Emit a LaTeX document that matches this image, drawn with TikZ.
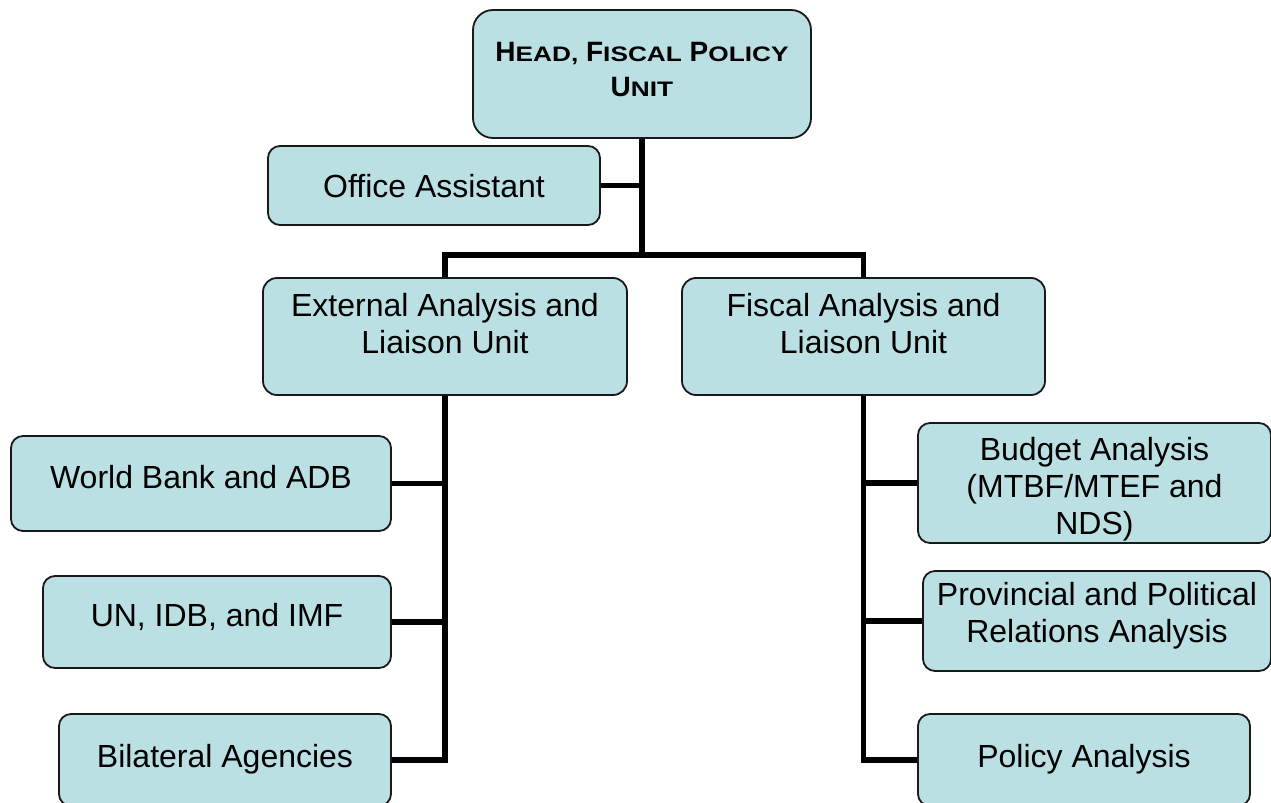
\documentclass[tikz,border=0pt]{standalone}
\usepackage{fontspec}
\setmainfont{Liberation Sans}
\newfontfamily\widefont[FakeStretch=1.25]{Liberation Sans}
\usepackage{xcolor}
\definecolor{boxfill}{HTML}{BBE0E3}
% small capitals for the unit head, drawn a little wider
\newcommand{\lowcap}[1]{{\fontsize{10.5}{17.5}\widefont\bfseries #1}}

\begin{document}
\begin{tikzpicture}[x=0.5pt, y=-0.5pt,
  unitbox/.style={draw=black!90, line width=0.9pt, fill=boxfill,
    rounded corners=6pt, align=center, inner sep=0pt,
    font=\fontsize{16}{18.5}\selectfont, text height=11.5pt, text depth=0pt},
  link/.style={line width=2.8pt}]
  \useasboundingbox (0,0) rectangle (1271,803);

  % Head of the unit and its assistant
  \node[unitbox, rounded corners=10pt, minimum width=169pt, minimum height=64pt,
    font=\fontsize{14}{17.5}\selectfont\bfseries, text height=27.5pt, text depth=5pt]
    (head) at (642,74) {H\lowcap{EAD,} F\lowcap{ISCAL} P\lowcap{OLICY}\\U\lowcap{NIT}};
  \node[unitbox, minimum width=166pt, minimum height=39.5pt] (office) at (434,185.5) {Office Assistant};

  % The two units
  \node[unitbox, rounded corners=7pt, minimum width=182pt, minimum height=58.5pt,
    text height=30pt, text depth=13pt] (ext) at (445,336.5) {External Analysis and\\Liaison Unit};
  \node[unitbox, rounded corners=7pt, minimum width=181.5pt, minimum height=58.5pt,
    text height=30pt, text depth=13pt] (fis) at (863.5,336.5) {Fiscal Analysis and\\Liaison Unit};

  % Desks under the external unit
  \node[unitbox, minimum width=190pt, minimum height=47.5pt, text depth=7pt] (wb) at (201,483.5) {World Bank and ADB};
  \node[unitbox, minimum width=174pt, minimum height=46pt, text depth=7pt] (un) at (217,622) {UN, IDB, and IMF};
  \node[unitbox, minimum width=166pt, minimum height=46pt, text depth=4pt] (bil) at (225,760) {Bilateral Agencies};

  % Desks under the fiscal unit
  \node[unitbox, minimum width=176.5pt, minimum height=60pt, text height=51.5pt]
    (bud) at (1094.5,483) {Budget Analysis\\(MTBF/MTEF and\\NDS)};
  \node[unitbox, minimum width=174pt, minimum height=50pt, text height=30pt, text depth=8.5pt]
    (prov) at (1097,621) {Provincial and Political\\Relations Analysis};
  \node[unitbox, minimum width=166pt, minimum height=46pt, text depth=4pt] (pol) at (1084,760) {Policy Analysis};

  % Connectors
  \coordinate (bus) at (642,255);
  \draw[link] (head.south) -- (bus);
  \draw[link] (office.east) -- (office.east -| head.south);
  \draw[link] (ext.north) -- (ext.north |- bus) -- (fis.north |- bus) -- (fis.north);
  \draw[link] (ext.south) -- (ext.south |- bil.east) -- (bil.east);
  \foreach \c in {wb,un}
    \draw[link] (\c.east) -- (\c.east -| ext.south);
  \draw[link] (fis.south) -- (fis.south |- pol.west) -- (pol.west);
  \foreach \c in {bud,prov}
    \draw[link] (\c.west) -- (\c.west -| fis.south);
\end{tikzpicture}
\end{document}
